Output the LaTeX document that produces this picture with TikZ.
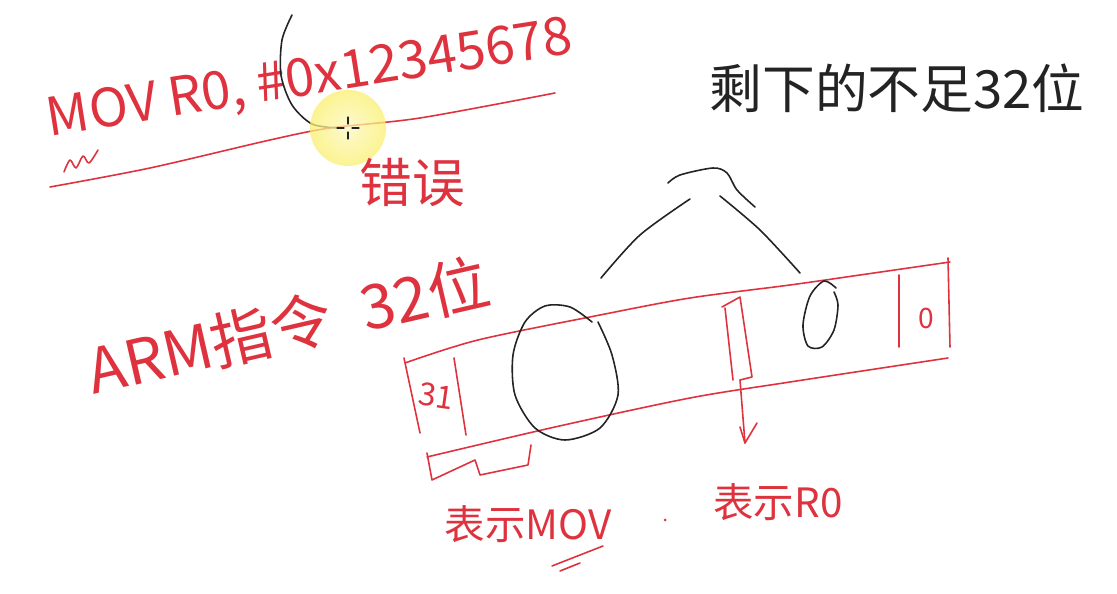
\documentclass[tikz,border=0pt]{standalone}
\usepackage{fontspec}
\setmainfont{Noto Sans CJK SC}
\newfontfamily\cjk{Noto Sans CJK SC}
\definecolor{pen}{RGB}{222,50,62}
\definecolor{ink}{RGB}{35,35,35}
\definecolor{hilite}{RGB}{250,240,110}
\tikzset{
  redline/.style={draw=pen, line width=0.9pt},
  blackline/.style={draw=ink, line width=0.9pt},
  redtext/.style={text=pen, inner sep=0pt},
  blacktext/.style={text=ink, inner sep=0pt},
}
\begin{document}
\begin{tikzpicture}[x=0.02cm,y=-0.02cm, line cap=round, line join=round]
\useasboundingbox[fill=white] (0,0) rectangle (1117,594);

% ---- top: the instruction ----
\node[redtext, font=\fontsize{30}{32}\selectfont, rotate=9] (instr) at (310,80) {MOV R0, \#0x12345678};
\draw[redline] plot[smooth] coordinates {(64,172) (70,160) (76,168) (83,156) (89,163) (98,150)};
\draw[redline] plot[smooth] coordinates {(50,187) (150,168) (270,140) (330,128) (420,118) (555,93)};
\draw[blackline] plot[smooth] coordinates {(292,15) (282,40) (281,75) (292,105) (312,124) (338,128)};
% highlight + cursor
\shade[inner color=hilite!45, outer color=hilite, opacity=0.75] (348,128) circle (38);
\draw[ink, line width=0.6pt] (348,117) -- (348,124) (348,132) -- (348,139)
      (337,128) -- (344,128) (352,128) -- (359,128);
\node[redtext, font=\fontsize{30}{32}\selectfont] (err) at (412,183) {错误};

\node[blacktext, font=\fontsize{30}{32}\selectfont] (rest) at (897,88) {剩下的不足32位};

% ---- ARM instruction ----
\node[redtext, font=\fontsize{35}{38}\selectfont, rotate=13] (arm) at (288,326) {ARM指令\hspace{0.5em}32位};

% band
\draw[redline] plot[smooth] coordinates {(405,363) (478,340) (600,315) (690,298) (790,285) (860,275) (950,262)};
\draw[redline] plot[smooth] coordinates {(427,457) (555,427) (690,398) (790,382) (948,358)};
\draw[redline] (404,358) -- (420,433);
\draw[redline] (454,358) -- (466,435);
\draw[redline] (899,275) -- (899,347);
\draw[redline] (948,258) -- (950,347);
\node[redtext, font=\fontsize{18}{20}\selectfont, rotate=-8] (b31) at (436,396) {31};
\node[redtext, font=\fontsize{16}{18}\selectfont] (b0) at (926,318) {0};

% brace under 31
\draw[redline] (427,453) -- (432,480) -- (475,460) -- (480,475) -- (528,465) -- (531,445);

% black loops
\draw[blackline] plot[smooth] coordinates {(592,322) (570,307) (545,306) (525,322) (513,355) (515,395) (535,428) (565,440) (600,428) (618,395) (612,355) (598,322)};
\draw[blackline] plot[smooth] coordinates {(834,292) (838,305) (834,330) (822,347) (808,346) (803,325) (810,296) (824,281) (836,288)};

% tent
\draw[blackline] plot[smooth] coordinates {(601,278) (640,235) (690,199)};
\draw[blackline] plot[smooth] coordinates {(668,183) (680,175) (713,168) (727,173) (737,190) (755,207)};
\draw[blackline] plot[smooth] coordinates {(720,196) (760,230) (800,273)};

% arrow box
\draw[redline] (725,308) -- (733,380);
\draw[redline] (722,307) -- (740,297) -- (752,377) -- (740,380);
\coordinate (arrtip) at (745,443);
\draw[redline] (740,380) -- (arrtip);
\draw[redline] (740,427) -- (arrtip) -- (757,423);

% labels
\node[redtext, font=\fontsize{23}{26}\selectfont] (lmov) at (528,524) {表示MOV};
\draw[redline] (552,566) -- (603,546);
\draw[redline] (560,571) -- (580,563);
\fill[pen] (665,520) circle (1.5);
\node[redtext, font=\fontsize{23}{26}\selectfont] (lr0) at (778,502) {表示R0};
\end{tikzpicture}
\end{document}
